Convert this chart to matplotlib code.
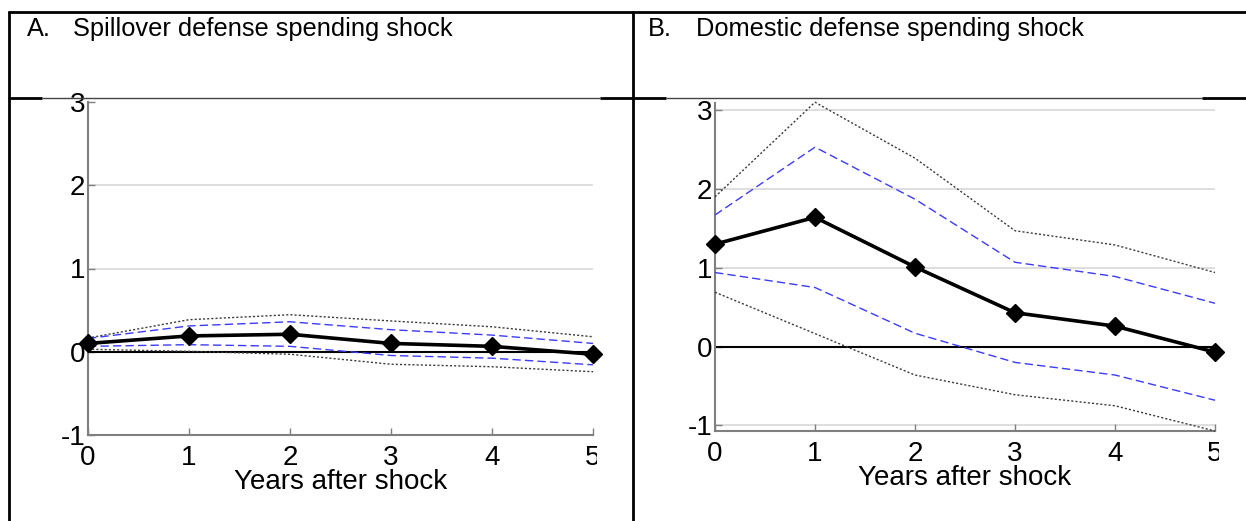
import matplotlib
matplotlib.use("Agg")
import matplotlib.pyplot as plt
from matplotlib.lines import Line2D
from matplotlib.transforms import Bbox, TransformedBbox

plt.rcParams['font.family'] = ['Liberation Sans', 'DejaVu Sans']

years = [0, 1, 2, 3, 4, 5]
x_ticks = [0, 1, 2, 3, 4, 5]
y_ticks = [-1, 0, 1, 2, 3]
x_label = "Years after shock"

titles = ["Spillover defense spending shock", "Domestic defense spending shock"]
letters = ["A.", "B."]

# Panel A: spillover shock
a_point = [0.10, 0.19, 0.21, 0.10, 0.065, -0.03]
a_hi68 = [0.16, 0.31, 0.36, 0.265, 0.20, 0.10]
a_lo68 = [0.065, 0.085, 0.065, -0.045, -0.077, -0.157]
a_hi90 = [0.165, 0.385, 0.445, 0.37, 0.30, 0.18]
a_lo90 = [0.03, 0.005, -0.03, -0.15, -0.18, -0.24]

# Panel B: domestic shock
b_point = [1.30, 1.64, 1.01, 0.43, 0.26, -0.07]
b_hi68 = [1.67, 2.53, 1.87, 1.07, 0.89, 0.55]
b_lo68 = [0.94, 0.75, 0.17, -0.20, -0.36, -0.68]
b_hi90 = [1.90, 3.10, 2.39, 1.47, 1.29, 0.94]
b_lo90 = [0.69, 0.165, -0.36, -0.61, -0.75, -1.07]

W, H = 1246, 521
fig = plt.figure(figsize=(W / 100, H / 100), dpi=100)


def fx(px):
    return px / W


def fy(py):
    return 1 - py / H


# table frame around the two panels
def hline(y, x0, x1, lw=2.0, color='black'):
    fig.add_artist(Line2D([fx(x0), fx(x1)], [fy(y), fy(y)], color=color, lw=lw,
                          transform=fig.transFigure, solid_capstyle='butt'))


def vline(x, y0, y1, lw=2.0, color='black'):
    fig.add_artist(Line2D([fx(x), fx(x)], [fy(y0), fy(y1)], color=color, lw=lw,
                          transform=fig.transFigure, solid_capstyle='butt'))


hline(12, 8, W)
hline(98, 8, 42)
hline(98, 42, 600, lw=1.0, color='#444444')
hline(98, 600, 666)
hline(98, 666, 1202, lw=1.0, color='#444444')
hline(98, 1202, W)
vline(9, 11, H)
vline(633, 11, H)

head_size = 18.3
fig.text(fx(27), fy(29), letters[0], fontsize=head_size, va='center', ha='left')
fig.text(fx(73), fy(29), titles[0], fontsize=head_size, va='center', ha='left')
fig.text(fx(648), fy(29), letters[1], fontsize=head_size, va='center', ha='left')
fig.text(fx(696), fy(29), titles[1], fontsize=head_size, va='center', ha='left')

axis_gray = '#7f7f7f'
grid_gray = '#dedede'
blue = '#3b3bff'
dot_gray = '#3a3a3a'


def panel(rect, point, hi68, lo68, hi90, lo90, ylim, grid_at, right_clip):
    ax = fig.add_axes(rect)
    ax.set_facecolor('none')
    for y in grid_at:
        ax.axhline(y, color=grid_gray, lw=1.4, zorder=0)
    ax.axhline(0, color='black', lw=1.5, zorder=2)
    # 90% band (dotted) and 68% band (dashed)
    ax.plot(years, hi90, color=dot_gray, lw=1.0, dashes=(1.5, 1.5), zorder=3, clip_on=False)
    ax.plot(years, lo90, color=dot_gray, lw=1.0, dashes=(1.5, 1.5), zorder=3, clip_on=False)
    ax.plot(years, hi68, color=blue, lw=1.0, dashes=(6, 3), zorder=3, clip_on=False)
    ax.plot(years, lo68, color=blue, lw=1.0, dashes=(6, 3), zorder=3, clip_on=False)
    ax.plot(years, point, color='black', lw=2.6, marker='D', markersize=9,
            zorder=4, clip_on=False)
    ax.set_xlim(0, 5)
    ax.set_ylim(*ylim)
    ax.set_xticks(x_ticks)
    ax.set_yticks(y_ticks)
    ax.set_xticklabels([str(v) for v in x_ticks])
    ax.set_yticklabels([str(v) for v in y_ticks])
    ax.spines['top'].set_visible(False)
    ax.spines['right'].set_visible(False)
    for side in ('left', 'bottom'):
        ax.spines[side].set_color(axis_gray)
        ax.spines[side].set_linewidth(1.5)
    ax.tick_params(direction='in', length=5, width=1.0, color=axis_gray,
                   labelsize=20, pad=2)
    ax.tick_params(axis='x', pad=7)
    ax.set_xlabel(x_label, fontsize=20, labelpad=-1)
    # tick labels past the right edge of the panel are cut off
    clip = TransformedBbox(Bbox([[0, 0], [fx(right_clip), 1]]), fig.transFigure)
    for lab in ax.get_xticklabels():
        lab.set_clip_on(True)
        lab.set_clip_box(clip)
    return ax


panel([fx(88), fy(435), fx(593) - fx(88), fy(102) - fy(435)],
      a_point, a_hi68, a_lo68, a_hi90, a_lo90,
      ylim=(-1, 3), grid_at=[1, 2], right_clip=597)

panel([fx(715), fy(431), fx(1215) - fx(715), fy(103) - fy(431)],
      b_point, b_hi68, b_lo68, b_hi90, b_lo90,
      ylim=(-1.07, 3.09), grid_at=[-1, 1, 2, 3], right_clip=1219)

fig.savefig('out.png', dpi=100)
